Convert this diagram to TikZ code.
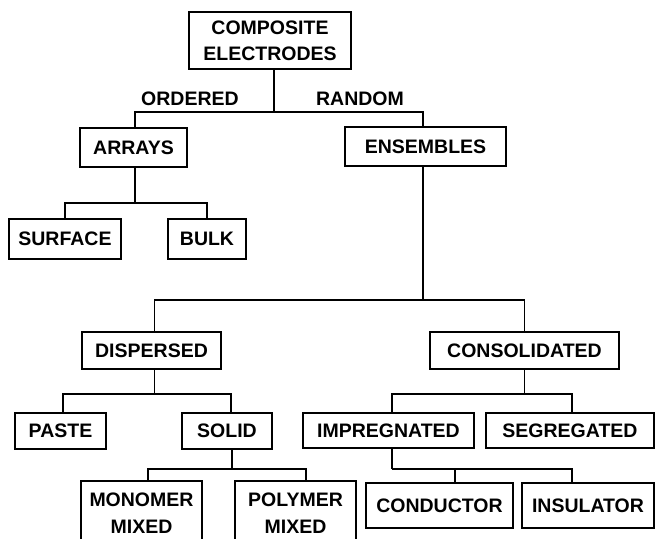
\documentclass[tikz,border=0pt]{standalone}
\usepackage{fontspec}
\setmainfont{Liberation Sans}
\usetikzlibrary{calc}
\begin{document}
\begin{tikzpicture}[x=1pt,y=-1pt,
  box/.style={draw, line width=1.8pt, inner sep=0pt, align=center,
    font=\fontsize{19.5}{27}\selectfont\bfseries},
  link/.style={line width=1.6pt},
  lab/.style={inner sep=0pt, font=\fontsize{19.5}{23}\selectfont\bfseries}]
\useasboundingbox (0,0) rectangle (655,538);
% nodes
\node[box, minimum width=162pt, minimum height=57pt] (top) at (270,40.5) {COMPOSITE\\[-1pt]ELECTRODES};
\node[lab] (ord) at (190,99) {ORDERED};
\node[lab] (ran) at (360,99) {RANDOM};
\node[box, minimum width=107pt, minimum height=39pt] (arr) at (133.5,147.5) {ARRAYS};
\node[box, minimum width=161pt, minimum height=39pt] (ens) at (425.5,146.5) {ENSEMBLES};
\node[box, minimum width=112pt, minimum height=40pt] (sur) at (65,239) {SURFACE};
\node[box, minimum width=78pt, minimum height=40pt] (bul) at (207,239) {BULK};
\node[box, minimum width=139pt, minimum height=37pt] (dis) at (151.5,350.5) {DISPERSED};
\node[box, minimum width=189pt, minimum height=37pt] (con) at (524.5,350.5) {CONSOLIDATED};
\node[box, minimum width=91pt, minimum height=36pt] (pas) at (60.5,431) {PASTE};
\node[box, minimum width=90pt, minimum height=36pt] (sol) at (227,431) {SOLID};
\node[box, minimum width=171pt, minimum height=35pt] (imp) at (388.5,430.5) {IMPREGNATED};
\node[box, minimum width=168pt, minimum height=35pt] (seg) at (570,430.5) {SEGREGATED};
\node[box, minimum width=121pt, minimum height=64pt] (mon) at (141.5,513) {MONOMER\\MIXED};
\node[box, minimum width=121pt, minimum height=64pt] (pol) at (295.5,513) {POLYMER\\MIXED};
\node[box, minimum width=147pt, minimum height=45pt] (cnd) at (439.5,505.5) {CONDUCTOR};
\node[box, minimum width=132pt, minimum height=45pt] (ins) at (588,505.5) {INSULATOR};
% connectors
\draw[link] ([xshift=4pt]top.south) -- ++(0,42) coordinate (j0);
\draw[link] ([xshift=1.5pt]arr.north) |- (j0) -| ([xshift=-2.5pt]ens.north);
\draw[link] ([xshift=1.5pt]arr.south) -- ++(0,35) coordinate (j1);
\draw[link] (sur.north) |- (j1) -| (bul.north);
\draw[link] ([xshift=-2.5pt]ens.south) -- ++(0,133) coordinate (j2);
\draw[link] ([xshift=3pt]dis.north) |- (j2) -| (con.north);
\draw[link] ([xshift=3pt]dis.south) -- ++(0,24) coordinate (j3);
\draw[link] ([xshift=2.5pt]pas.north) |- (j3) -| ([xshift=4pt]sol.north);
\draw[link] (con.south) -- ++(0,24) coordinate (j4);
\draw[link] ([xshift=3.5pt]imp.north) |- (j4) -| ([xshift=2pt]seg.north);
\draw[link] ([xshift=5pt]sol.south) -- ++(0,19) coordinate (j5);
\draw[link] ([xshift=6.5pt]mon.north) |- (j5) -| ([xshift=10.5pt]pol.north);
\draw[link] ([xshift=3.5pt]imp.south) -- ++(0,20) coordinate (j6);
\draw[link] (j6) -| ([xshift=15.5pt]cnd.north);
\draw[link] (j6) -| ([xshift=-16pt]ins.north);
\end{tikzpicture}
\end{document}
